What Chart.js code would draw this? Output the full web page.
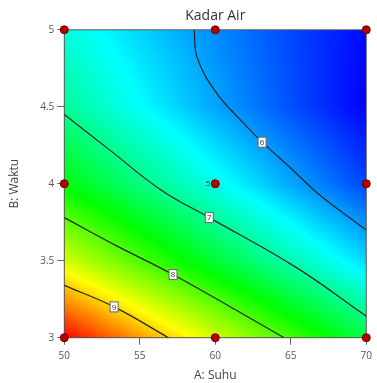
<!DOCTYPE html>
<html>
<head>
<meta charset="utf-8">
<script src="https://cdn.jsdelivr.net/npm/chart.js@4/dist/chart.umd.min.js"></script>
<style>
  html, body { margin: 0; padding: 0; background: #fff; }
</style>
</head>
<body>
<canvas id="kadarAirChart" width="377" height="383"></canvas>
<script>
// A: Suhu (x) dan B: Waktu (y)
const suhu = [50, 55, 60, 65, 70];
const waktu = [3, 3.5, 4, 4.5, 5];
// Kadar Air dibaca dari warna, satu baris per nilai waktu (3 -> 5)
const kadarAir = [
    [9.95, 9.25, 8.59, 7.94, 7.33],
    [8.60, 7.99, 7.40, 6.84, 6.31],
    [7.60, 7.07, 6.57, 6.09, 5.64],
    [6.95, 6.50, 6.08, 5.69, 5.33],
    [6.65, 6.29, 5.96, 5.65, 5.36]
];

// garis kontur
const konturLevel = [6, 7, 8, 9];
const kontur6Suhu = [58.6, 58.8, 60.0, 61.8, 63.1, 64.9, 67.0, 70];
const kontur6Waktu = [5.0, 4.82, 4.60, 4.40, 4.27, 4.11, 3.92, 3.70];
const kontur7Suhu = [50, 53.0, 56.4, 59.6, 65.3, 70];
const kontur7Waktu = [4.45, 4.22, 3.96, 3.78, 3.46, 3.14];
const kontur8Suhu = [50, 53.6, 57.2, 64.55];
const kontur8Waktu = [3.78, 3.59, 3.41, 3.0];
const kontur9Suhu = [50, 53.3, 56.9];
const kontur9Waktu = [3.34, 3.20, 3.0];
const labelSuhu = [63.1, 59.6, 57.2, 53.3];
const labelWaktu = [4.27, 3.78, 3.41, 3.20];

// titik desain
const desainSuhu = [50, 60, 70, 50, 60, 70, 50, 60, 70];
const desainWaktu = [3, 3, 3, 4, 4, 4, 5, 5, 5];
const ulangan = [1, 1, 1, 1, 5, 1, 1, 1, 1];

const yTicks = [3, 3.5, 4, 4.5, 5];

Chart.defaults.font.family = "'Open Sans', 'Noto Sans', sans-serif";

const vMin = Math.min(...kadarAir.flat());
const vMax = Math.max(...kadarAir.flat());

function nilai(s, b) {
    let i = 0;
    while (i < suhu.length - 2 && s > suhu[i + 1]) i++;
    let j = 0;
    while (j < waktu.length - 2 && b > waktu[j + 1]) j++;
    const u = (s - suhu[i]) / (suhu[i + 1] - suhu[i]);
    const v = (b - waktu[j]) / (waktu[j + 1] - waktu[j]);
    return kadarAir[j][i] * (1 - u) * (1 - v) + kadarAir[j][i + 1] * u * (1 - v)
        + kadarAir[j + 1][i] * (1 - u) * v + kadarAir[j + 1][i + 1] * u * v;
}

// biru (rendah) -> cyan -> hijau -> kuning -> merah (tinggi)
function warna(v) {
    let t = (vMax - v) / (vMax - vMin);
    t = Math.min(1, Math.max(0, t));
    const hp = t * 4;
    const xx = 1 - Math.abs(hp % 2 - 1);
    let r = 0, g = 0, b = 0;
    if (hp < 1) { r = 1; g = xx; }
    else if (hp < 2) { r = xx; g = 1; }
    else if (hp < 3) { g = 1; b = xx; }
    else { g = xx; b = 1; }
    return [r * 255, g * 255, b * 255];
}

const petaWarna = {
    id: 'petaWarna',
    beforeDatasetsDraw(chart) {
        const { ctx, chartArea: a, scales: { x, y } } = chart;
        const l = Math.round(a.left), t = Math.round(a.top);
        const w = Math.round(a.right) - l, h = Math.round(a.bottom) - t;
        const img = ctx.createImageData(w, h);
        for (let j = 0; j < h; j++) {
            const b = y.getValueForPixel(t + j + 0.5);
            for (let i = 0; i < w; i++) {
                const s = x.getValueForPixel(l + i + 0.5);
                const c = warna(nilai(s, b));
                const k = (j * w + i) * 4;
                img.data[k] = c[0];
                img.data[k + 1] = c[1];
                img.data[k + 2] = c[2];
                img.data[k + 3] = 255;
            }
        }
        ctx.putImageData(img, l, t);
        ctx.save();
        ctx.strokeStyle = '#555';
        ctx.lineWidth = 1;
        ctx.strokeRect(a.left, a.top, a.right - a.left, a.bottom - a.top);
        ctx.restore();
    },
    afterDatasetsDraw(chart) {
        const { ctx, scales: { x, y } } = chart;
        ctx.save();
        ctx.font = "8px 'Open Sans', sans-serif";
        ctx.textAlign = 'center';
        ctx.textBaseline = 'middle';
        for (let i = 0; i < konturLevel.length; i++) {
            const px = x.getPixelForValue(labelSuhu[i]);
            const py = y.getPixelForValue(labelWaktu[i]);
            ctx.fillStyle = '#fff';
            ctx.fillRect(px - 4, py - 5, 8, 10);
            ctx.strokeStyle = '#666';
            ctx.lineWidth = 1;
            ctx.strokeRect(px - 4, py - 5, 8, 10);
            ctx.fillStyle = '#333';
            ctx.fillText(String(konturLevel[i]), px, py + 0.5);
        }
        ctx.textAlign = 'right';
        for (let i = 0; i < ulangan.length; i++) {
            if (ulangan[i] > 1) {
                ctx.fillText(String(ulangan[i]), x.getPixelForValue(desainSuhu[i]) - 5, y.getPixelForValue(desainWaktu[i]));
            }
        }
        ctx.restore();
    }
};

function kePoin(xs, ys) {
    return xs.map((v, i) => ({ x: v, y: ys[i] }));
}
const kontur = [
    kePoin(kontur6Suhu, kontur6Waktu),
    kePoin(kontur7Suhu, kontur7Waktu),
    kePoin(kontur8Suhu, kontur8Waktu),
    kePoin(kontur9Suhu, kontur9Waktu)
];

const datasets = [{
    label: 'Desain',
    data: kePoin(desainSuhu, desainWaktu),
    pointRadius: 4,
    backgroundColor: '#b80000',
    borderColor: '#6a0000',
    borderWidth: 1,
    clip: false
}];
kontur.forEach((k, i) => {
    datasets.push({
        label: 'Kontur ' + konturLevel[i],
        data: k,
        showLine: true,
        tension: 0.4,
        pointRadius: 0,
        borderColor: '#262626',
        borderWidth: 1.2
    });
});

new Chart(document.querySelector('#kadarAirChart'), {
    type: 'scatter',
    data: { datasets: datasets },
    plugins: [petaWarna],
    options: {
        responsive: false,
        animation: false,
        events: [],
        layout: { padding: { left: 0, right: 5, top: 0, bottom: 0 } },
        plugins: {
            legend: { display: false },
            tooltip: { enabled: false },
            title: {
                display: true,
                text: 'Kadar Air',
                fullSize: false,
                color: '#333',
                font: { size: 14, weight: 'normal' },
                padding: { top: 8, bottom: 5 }
            }
        },
        scales: {
            x: {
                type: 'linear',
                min: 50,
                max: 70,
                ticks: { stepSize: 5, color: '#555', font: { size: 10 }, padding: 5 },
                grid: { drawOnChartArea: false, drawTicks: true, tickLength: 7, color: '#666' },
                border: { display: false },
                title: { display: true, text: 'A: Suhu', color: '#444', font: { size: 12 }, padding: { top: 0, bottom: 0 } },
                afterFit(s) { s.height = 45.3; }
            },
            y: {
                type: 'linear',
                min: 3,
                max: 5,
                afterBuildTicks(s) { s.ticks = yTicks.map(v => ({ value: v })); },
                ticks: { color: '#555', font: { size: 10 }, padding: 3, callback: v => String(v) },
                grid: { drawOnChartArea: false, drawTicks: true, tickLength: 7, color: '#666' },
                border: { display: false },
                title: { display: true, text: 'B: Waktu', color: '#444', font: { size: 12 }, padding: { top: 7, bottom: 0 } },
                afterFit(s) { s.width = 64.3; }
            }
        }
    }
});
</script>
</body>
</html>
